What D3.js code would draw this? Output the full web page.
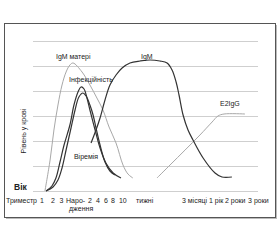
<!DOCTYPE html>
<html>
<head>
<meta charset="utf-8">
<script src="https://cdn.jsdelivr.net/npm/d3@7"></script>
<style>
  body { margin: 0; background: #fff; }
  text { font-family: "Liberation Sans", Arial, sans-serif; fill: #222; }
  .grid { stroke: #cfcfcf; stroke-width: 1; }
  .dark { fill: none; stroke: #333; stroke-width: 1.2; }
  .light { fill: none; stroke: #a8a8a8; stroke-width: 1; }
</style>
</head>
<body>
<svg id="chart" width="280" height="240"></svg>
<script>
// x: time (arbitrary units 0..100), y: level in blood (grid steps 0..6)
var levels = [0, 1, 2, 3, 4, 5, 6];

var igmMother = [[5.3,0],[7.6,1.24],[9.3,2.44],[11.1,3.44],[12.9,4.24],[14.7,4.76],[16.4,5.04],[17.8,5.12],
  [21.8,4.76],[25.3,4.24],[28.4,3.72],[31.1,3.24],[33.8,2.56],[36.9,1.92],[40,1.04],[42.2,0.68],[44.4,0.52]];

var infectivity = [[5.8,0],[8.4,0.2],[10.2,0.52],[12,1.16],[13.8,1.84],[16.4,2.64],[18.2,3.44],[20,3.96],[21.3,4.16],
  [22.7,4.08],[24,3.72],[25.3,3.24],[27.6,2.44],[29.8,1.72],[32.4,1.12],[35.6,0.72],[39.1,0.52]];

var viremia = [[5.8,0],[8.9,0.16],[11.1,0.44],[12.9,0.92],[14.7,1.64],[16.9,2.52],[18.7,3.24],[20.4,3.76],[22.2,3.92],
  [23.6,3.8],[25.3,3.44],[26.7,3.04],[28,2.52],[29.8,1.84],[32,1.16],[34.2,0.8],[36.4,0.64]];

var igm = [[25.8,1.92],[28,2.44],[29.8,2.92],[32,3.64],[34.2,4.24],[36.9,4.64],[39.6,4.92],[43.1,5.12],[47.6,5.2],
  [52,5.24],[56.4,5.2],[59.6,5.12],[61.8,4.84],[63.6,4.36],[64.9,3.84],[66.7,3.04],[68.9,2.44],[71.1,2.04],
  [75.6,1.32],[80.9,0.72],[84,0.56],[88.4,0.56]];

var e2igg = [[55.1,0.52],[60.9,1.04],[67.6,1.64],[74.2,2.24],[79.6,2.76],[82.2,3.0],[84.9,3.08],[94.2,3.08]];

var seriesNames = ["IgM матері", "Інфекційність", "Віремія", "IgM", "E2IgG"];
var seriesLabelPos = [[10.2,5.28],[16,4.36],[18.2,1.28],[48,5.28],[83.1,3.4]];

var tickLabels = ["Триместр","1","2","3","Наро-","2","4","6","8","10","тижні","3 місяці","1 рік","2 роки","3 роки"];
var tickPos = [-12,3.1,8,11.8,14.7,24.4,28,31.6,34.7,38.2,45.8,66.2,78.2,85.3,95.6];
var tickLabel2 = "дження", tickPos2 = 16;

var svg = d3.select("#chart");
var x = d3.scaleLinear().domain([0, 100]).range([33, 258]);
var y = d3.scaleLinear().domain([0, 6]).range([191, 41]);

// frame with shadow
svg.append("rect").attr("x", 6).attr("y", 25).attr("width", 271).attr("height", 194).attr("fill", "#bbb");
svg.append("rect").attr("x", 4.5).attr("y", 23.5).attr("width", 271).attr("height", 194)
  .attr("fill", "#fff").attr("stroke", "#555").attr("stroke-width", 1);

// gridlines
svg.selectAll(".grid").data(levels).enter().append("line")
  .attr("class", "grid")
  .attr("x1", x(0)).attr("x2", x(100))
  .attr("y1", function(d) { return Math.round(y(d)) + 0.5; })
  .attr("y2", function(d) { return Math.round(y(d)) + 0.5; });

var line = d3.line()
  .x(function(d) { return x(d[0]); })
  .y(function(d) { return y(d[1]); })
  .curve(d3.curveCatmullRom.alpha(0.5));

var lines = [[igmMother, "light"], [e2igg, "light"], [infectivity, "dark"], [viremia, "dark"], [igm, "dark"]];
svg.selectAll(".curve").data(lines).enter().append("path")
  .attr("class", function(d) { return "curve " + d[1]; })
  .attr("d", function(d) { return line(d[0]); });

// series labels
svg.selectAll(".slabel").data(seriesNames).enter().append("text")
  .attr("class", "slabel")
  .attr("x", function(d, i) { return x(seriesLabelPos[i][0]); })
  .attr("y", function(d, i) { return y(seriesLabelPos[i][1]); })
  .attr("font-size", "7px")
  .text(function(d) { return d; });

// axis texts
svg.append("text")
  .attr("transform", "translate(25.5," + y(2.4) + ") rotate(-90)")
  .attr("text-anchor", "middle")
  .attr("font-size", "7px")
  .text("Рівень у крові");

svg.append("text")
  .attr("x", 14).attr("y", 189.5)
  .attr("font-size", "8.5px").attr("font-weight", "bold")
  .text("Вік");

svg.selectAll(".tick").data(tickLabels).enter().append("text")
  .attr("class", "tick")
  .attr("x", function(d, i) { return x(tickPos[i]); })
  .attr("y", 202.5)
  .attr("font-size", "7px")
  .text(function(d) { return d; });

svg.append("text")
  .attr("x", x(tickPos2)).attr("y", 211)
  .attr("font-size", "7px")
  .text(tickLabel2);
</script>
</body>
</html>
